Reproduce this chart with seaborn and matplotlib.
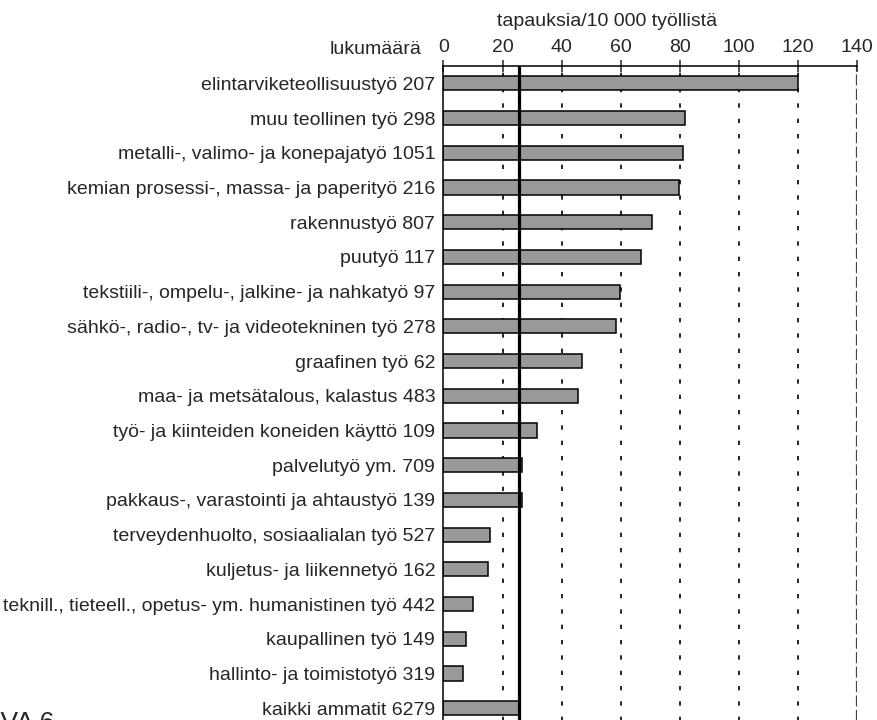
import seaborn as sns
import pandas as pd
import matplotlib.pyplot as plt

# occupational groups, number of cases and cases per 10 000 employed
groups = ["elintarviketeollisuustyö", "muu teollinen työ", "metalli-, valimo- ja konepajatyö",
          "kemian prosessi-, massa- ja paperityö", "rakennustyö", "puutyö",
          "tekstiili-, ompelu-, jalkine- ja nahkatyö", "sähkö-, radio-, tv- ja videotekninen työ",
          "graafinen työ", "maa- ja metsätalous, kalastus", "työ- ja kiinteiden koneiden käyttö",
          "palvelutyö ym.", "pakkaus-, varastointi ja ahtaustyö", "terveydenhuolto, sosiaalialan työ",
          "kuljetus- ja liikennetyö", "teknill., tieteell., opetus- ym. humanistinen työ",
          "kaupallinen työ", "hallinto- ja toimistotyö", "kaikki ammatit"]
counts = [207, 298, 1051, 216, 807, 117, 97, 278, 62, 483, 109, 709, 139, 527, 162, 442, 149, 319, 6279]
rates = [119.9, 81.6, 81.2, 79.9, 70.7, 66.9, 59.8, 58.3, 46.8, 45.7, 31.5,
         26.7, 26.5, 15.8, 15.0, 10.0, 7.6, 6.5, 25.5]
x_ticks = [0, 20, 40, 60, 80, 100, 120, 140]

df = pd.DataFrame({"label": [f"{g} {c}" for g, c in zip(groups, counts)], "rate": rates})

sns.set_style("white")
plt.rcParams["font.family"] = ["Liberation Sans", "DejaVu Sans"]
plt.rcParams["font.size"] = 14

W, H = 878, 720
left, right, top, bottom = 443.5, 857, 66, 725.6
fig = plt.figure(figsize=(W / 100, H / 100), dpi=100)
ax = fig.add_axes([left / W, 1 - bottom / H, (right - left) / W, (bottom - top) / H])

# dashed gridlines below the bars
for v in x_ticks[1:-1]:
    ax.axvline(v, color="black", lw=1.2, linestyle=(0, (2.6, 6.6)), zorder=0)
ax.axvline(140, color="#444444", lw=1.6, linestyle=(0, (5, 1.5)), zorder=0)

sns.barplot(data=df, y="label", x="rate", orient="h", color="#999999",
            edgecolor="black", linewidth=1.1, width=0.41, saturation=1, ax=ax, zorder=2)

# reference line: all occupations
ax.axvline(rates[-1], color="black", lw=2.3, zorder=3)

ax.set_xlim(0, 140)
ax.set_ylim(len(groups) - 0.5, -0.5)
ax.set_xticks(x_ticks)
ax.xaxis.tick_top()
ax.tick_params(axis="x", direction="inout", length=8, width=1.1, pad=3, labelsize=14)
ax.tick_params(axis="y", length=0, pad=6, labelsize=14)
ax.set_xlabel("")
ax.set_ylabel("")
for s in ["bottom", "right"]:
    ax.spines[s].set_visible(False)
for s in ["top", "left"]:
    ax.spines[s].set_linewidth(1.1)
    ax.spines[s].set_color("black")

axh = bottom - top
ax.text((421.7 - left) / (right - left), 1 + (66 - 54) / axh, "lukumäärä",
        transform=ax.transAxes, ha="right", va="baseline", fontsize=14)
ax.text((607.5 - left) / (right - left), 1 + (66 - 21) / axh, "tapauksia/10 000 työllistä",
        transform=ax.transAxes, ha="center", va="center", fontsize=14)
fig.text(54 / W, 1 - 711 / H, "KUVA 6", ha="right", va="top", fontsize=19)

fig.savefig("out.png", dpi=100)
